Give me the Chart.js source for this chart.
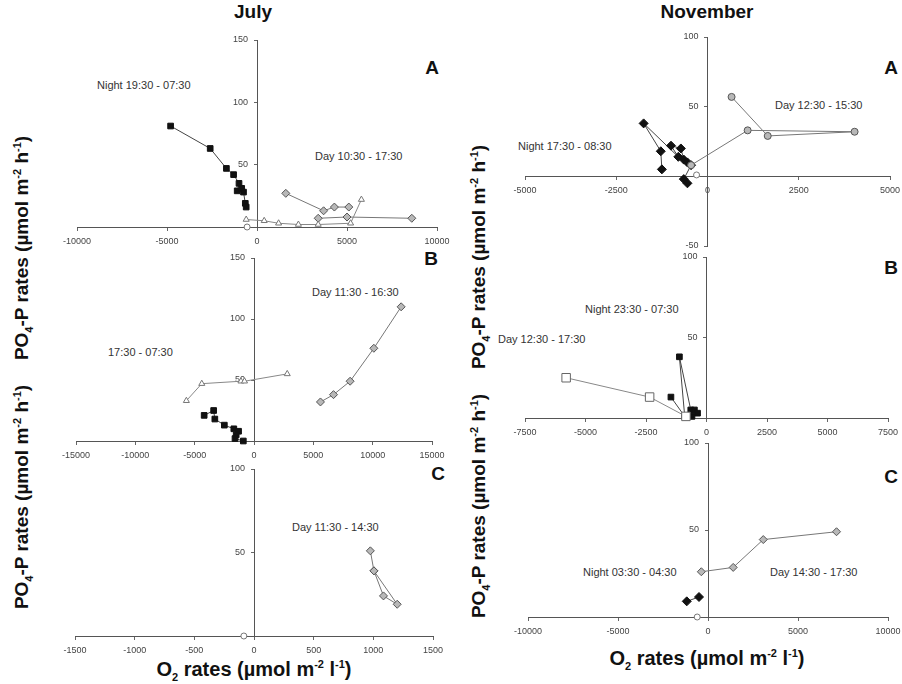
<!DOCTYPE html>
<html>
<head>
<meta charset="utf-8">
<script src="https://cdn.jsdelivr.net/npm/chart.js@4/dist/chart.umd.min.js"></script>
<style>
body { margin:0; background:#fff; }
#fig { position:relative; width:902px; height:684px; font-family: Arial, "Liberation Sans", sans-serif; overflow:hidden; }
canvas { position:absolute; }
.t { position:absolute; font-size:11px; color:#333; white-space:nowrap; }
.h { position:absolute; font-weight:bold; font-size:19px; color:#111; white-space:nowrap; transform:translate(-50%,-50%); }
.yl { position:absolute; font-weight:bold; font-size:19px; color:#111; white-space:nowrap; transform:translate(-50%,-50%) rotate(-90deg); }
sub, sup { font-size:11px; }
</style>
</head>
<body>
<div id="fig">
  <div class="h" style="left:253px;top:12px">July</div>
  <div class="h" style="left:707px;top:12px">November</div>

  <div class="h" style="left:432px;top:68px">A</div>
  <div class="h" style="left:431px;top:259px">B</div>
  <div class="h" style="left:438px;top:474px">C</div>
  <div class="h" style="left:891px;top:68px">A</div>
  <div class="h" style="left:891px;top:268px">B</div>
  <div class="h" style="left:891px;top:477px">C</div>

  <div class="t" style="left:97px;top:79px">Night 19:30 - 07:30</div>
  <div class="t" style="left:315px;top:150px">Day 10:30 - 17:30</div>
  <div class="t" style="left:312px;top:286px">Day 11:30 - 16:30</div>
  <div class="t" style="left:108px;top:346px">17:30 - 07:30</div>
  <div class="t" style="left:292px;top:521px">Day 11:30 - 14:30</div>
  <div class="t" style="left:775px;top:99px">Day 12:30 - 15:30</div>
  <div class="t" style="left:518px;top:140px">Night 17:30 - 08:30</div>
  <div class="t" style="left:585px;top:303px">Night 23:30 - 07:30</div>
  <div class="t" style="left:498px;top:333px">Day 12:30 - 17:30</div>
  <div class="t" style="left:583px;top:566px">Night 03:30 - 04:30</div>
  <div class="t" style="left:770px;top:566px">Day 14:30 - 17:30</div>

  <div class="yl" style="left:23px;top:248px">PO<sub>4</sub>-P rates (µmol m<sup>-2</sup> h<sup>-1</sup>)</div>
  <div class="yl" style="left:23px;top:497px">PO<sub>4</sub>-P rates (µmol m<sup>-2</sup> h<sup>-1</sup>)</div>
  <div class="yl" style="left:480px;top:257px">PO<sub>4</sub>-P rates (µmol m<sup>-2</sup> h<sup>-1</sup>)</div>
  <div class="yl" style="left:480px;top:506px">PO<sub>4</sub>-P rates (µmol m<sup>-2</sup> h<sup>-1</sup>)</div>

  <div class="h" style="left:254px;top:670px;font-size:20px">O<sub>2</sub> rates (µmol m<sup>-2</sup> l<sup>-1</sup>)</div>
  <div class="h" style="left:707px;top:659px;font-size:20px">O<sub>2</sub> rates (µmol m<sup>-2</sup> l<sup>-1</sup>)</div>
</div>
<script>
// July A  [O2, PO4-P]
const julyA_night = [[-4800,81],[-2600,63],[-1700,47],[-1300,42],[-1000,35],[-1100,29],[-850,31],[-750,28],[-650,19],[-600,16]];
const julyA_day1 = [[1600,27],[3700,13],[4300,16],[5100,16]];
const julyA_day2 = [[3400,7],[5000,8],[8600,7]];
const julyA_tri = [[-600,6],[400,5],[1200,3],[2300,2],[3400,2],[5200,3],[5800,22]];
const julyA_other = [[-550,0]];
const julyA_xTicks = [-10000,-5000,0,5000,10000];
const julyA_yTicks = [50,100,150];

// July B
const julyB_day = [[5600,32],[6700,38],[8100,49],[10100,76],[12400,110]];
const julyB_tri = [[-5700,33],[-4400,47],[-1100,49],[-800,49],[2800,55]];
const julyB_night = [[-4200,21],[-3400,25],[-3300,18],[-2500,13],[-1700,10],[-1300,8],[-1500,5],[-1600,2],[-900,0]];
const julyB_xTicks = [-15000,-10000,-5000,0,5000,10000,15000];
const julyB_yTicks = [50,100,150];

// July C
const julyC_day = [[975,51],[1005,39],[1085,24],[1200,19],[1005,39]];
const julyC_other = [[-85,0]];
const julyC_xTicks = [-1500,-1000,-500,0,500,1000,1500];
const julyC_yTicks = [50,100];

// November A
const novA_night = [[-1250,5],[-1280,18],[-1750,38],[-800,14],[-1000,22],[-730,20],[-650,12],[-550,10],[-450,8],[-650,-2],[-550,-5]];
const novA_day = [[660,57],[1650,29],[4030,32],[1100,33],[-450,8]];
const novA_other = [[-300,1]];
const novA_xTicks = [-5000,-2500,0,2500,5000];
const novA_yTicks = [-50,50,100];

// November B
const novB_day = [[-5800,25],[-2350,13],[-850,1]];
const novB_night = [[-1470,13],[-900,1],[-1120,38],[-650,5],[-500,5],[-370,3],[-600,1]];
const novB_xTicks = [-7500,-5000,-2500,0,2500,5000,7500];
const novB_yTicks = [50,100];

// November C
const novC_day = [[-370,26],[1400,28.5],[3070,44.5],[7140,49]];
const novC_night = [[-1180,9],[-500,11.5]];
const novC_other = [[-600,0]];
const novC_xTicks = [-10000,-5000,0,5000,10000];
const novC_yTicks = [50,100];

const nightSq = {pointStyle:'rect', pointRadius:4, pointBackgroundColor:'#111', pointBorderColor:'#111', borderColor:'#444'};
const nightDia = {pointStyle:'rectRot', pointRadius:4.5, pointBackgroundColor:'#111', pointBorderColor:'#111', borderColor:'#444'};
const dayDia = {pointStyle:'rectRot', pointRadius:4, pointBackgroundColor:'#b8b8b8', pointBorderColor:'#555', borderColor:'#777'};
const dayCirc = {pointStyle:'circle', pointRadius:3.5, pointBackgroundColor:'#b8b8b8', pointBorderColor:'#555', borderColor:'#777'};
const openTri = {pointStyle:'triangle', pointRadius:3.5, pointBackgroundColor:'#fff', pointBorderColor:'#777', borderColor:'#888'};
const openSq = {pointStyle:'rect', pointRadius:6, pointBackgroundColor:'#fff', pointBorderColor:'#666', borderColor:'#888'};
const openCirc = {pointStyle:'circle', pointRadius:3, pointBackgroundColor:'#fff', pointBorderColor:'#777', borderColor:'#888', showLine:false};

const pad = {left:34, right:34, top:12, bottom:26};

function ds(data, style) {
  return Object.assign({data: data.map(p => ({x:p[0], y:p[1]})), showLine:true, borderWidth:1, pointBorderWidth:1, clip:false}, style);
}

function axis(ticks, pos, isY) {
  return {
    type:'linear', position:pos, min:ticks.min, max:ticks.max,
    afterBuildTicks: s => { s.ticks = ticks.list.map(v => ({value:v})); },
    grid:{display:true, drawOnChartArea:false, tickLength:3, color:'#666'},
    border:{display:true, color:'#555', width:1},
    ticks:{
      font:{size:9, family:'Arial'}, color:'#444', padding:isY ? 2 : 6, maxRotation:0, autoSkip:false,
      callback: v => isY ? String(v) + '\u2003' : String(v)
    }
  };
}

// box = [x0, y0, x1, y1] : pixel place of axis extents on the page
function panel(box, xr, yr, xTicks, yTicks, datasets) {
  const cv = document.createElement('canvas');
  const w = box[2] - box[0] + pad.left + pad.right;
  const h = box[3] - box[1] + pad.top + pad.bottom;
  cv.width = w; cv.height = h;
  cv.style.left = (box[0] - pad.left) + 'px';
  cv.style.top = (box[1] - pad.top) + 'px';
  cv.style.width = w + 'px'; cv.style.height = h + 'px';
  document.getElementById('fig').appendChild(cv);
  new Chart(cv.getContext('2d'), {
    type:'scatter',
    data:{datasets:datasets},
    options:{
      responsive:false, animation:false, devicePixelRatio:1,
      layout:{padding:pad},
      plugins:{legend:{display:false}, tooltip:{enabled:false}},
      scales:{
        x: axis({min:xr[0], max:xr[1], list:xTicks}, {y:0}, false),
        y: axis({min:yr[0], max:yr[1], list:yTicks}, {x:0}, true)
      }
    }
  });
}

panel([77,40,437,227], [-10000,10000], [0,150], julyA_xTicks, julyA_yTicks,
  [ds(julyA_other, openCirc), ds(julyA_tri, openTri), ds(julyA_day2, dayDia), ds(julyA_day1, dayDia), ds(julyA_night, nightSq)]);
panel([76,258,432,441], [-15000,15000], [0,150], julyB_xTicks, julyB_yTicks,
  [ds(julyB_tri, openTri), ds(julyB_day, dayDia), ds(julyB_night, nightSq)]);
panel([75,469,433,636], [-1500,1500], [0,100], julyC_xTicks, julyC_yTicks,
  [ds(julyC_other, openCirc), ds(julyC_day, dayDia)]);
panel([525,37,890,246], [-5000,5000], [-50,100], novA_xTicks, novA_yTicks,
  [ds(novA_other, openCirc), ds(novA_day, dayCirc), ds(novA_night, nightDia)]);
panel([525,257,888,418], [-7500,7500], [0,100], novB_xTicks, novB_yTicks,
  [ds(novB_day, openSq), ds(novB_night, nightSq)]);
panel([528,443,888,617], [-10000,10000], [0,100], novC_xTicks, novC_yTicks,
  [ds(novC_other, openCirc), ds(novC_day, dayDia), ds(novC_night, nightDia)]);
</script>
</body>
</html>
